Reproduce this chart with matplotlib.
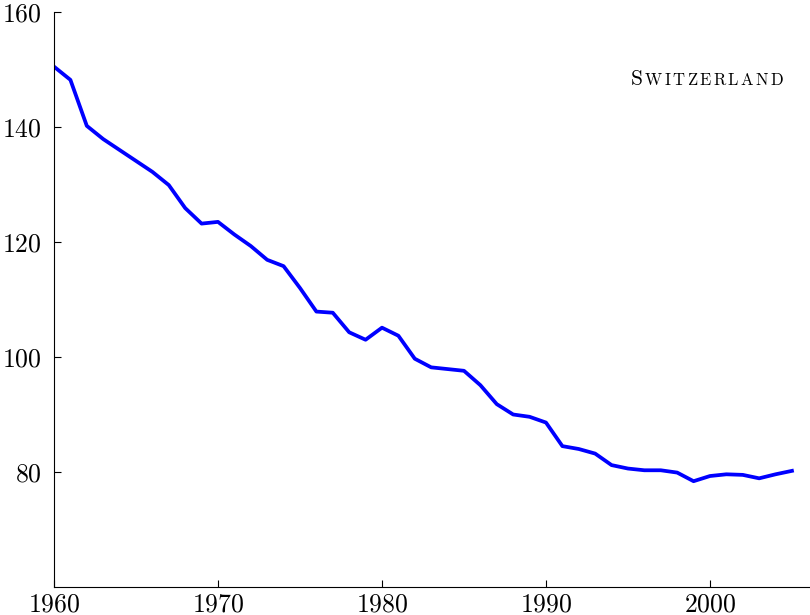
import matplotlib
matplotlib.use("Agg")
import matplotlib.pyplot as plt
from matplotlib.offsetbox import TextArea, HPacker, AnchoredOffsetbox

plt.rcParams['font.family'] = 'cmr10'
plt.rcParams['axes.formatter.use_mathtext'] = True

years = list(range(1960, 2006))
values = [150.5, 148.2, 140.2, 137.9, 136.0, 134.1, 132.2, 129.9, 125.9, 123.2,
          123.5, 121.3, 119.3, 116.9, 115.8, 112.0, 107.9, 107.7, 104.3, 103.0,
          105.1, 103.7, 99.7, 98.2, 97.9, 97.6, 95.1, 91.8, 90.0, 89.6,
          88.6, 84.5, 84.0, 83.2, 81.2, 80.6, 80.3, 80.3, 79.9, 78.4,
          79.3, 79.6, 79.5, 78.9, 79.6, 80.2]
country = "Switzerland"

fig = plt.figure(figsize=(8.1, 6.15), dpi=100)
ax = fig.add_axes([54 / 810, 1 - 587 / 615, 1 - 54 / 810, (587 - 12) / 615])

ax.plot(years, values, color='#0000ff', lw=2.7)

ax.set_xlim(1960, 2006.1)
ax.set_ylim(60, 160)
ax.set_xticks([1960, 1970, 1980, 1990, 2000])
ax.set_yticks([80, 100, 120, 140, 160])
ax.spines['top'].set_visible(False)
ax.spines['right'].set_visible(False)
ax.tick_params(direction='in', length=5, width=0.8, labelsize=18.5)
ax.tick_params(axis='y', pad=9)
ax.tick_params(axis='x', pad=4)

# fake small caps: big first letter, spaced smaller capitals after it
letters = [TextArea(country[0].upper(), textprops=dict(size=15.5, family='cmr10'))]
for ch in country[1:].upper():
    letters.append(TextArea(ch, textprops=dict(size=12, family='cmr10')))
box = HPacker(children=letters, align="baseline", pad=0, sep=1.7)
anchored = AnchoredOffsetbox(loc='upper right', child=box, frameon=False,
                             bbox_to_anchor=(783 / 810, 1 - 69 / 615),
                             bbox_transform=fig.transFigure, borderpad=0, pad=0)
ax.add_artist(anchored)

fig.savefig("out.png", dpi=100)
